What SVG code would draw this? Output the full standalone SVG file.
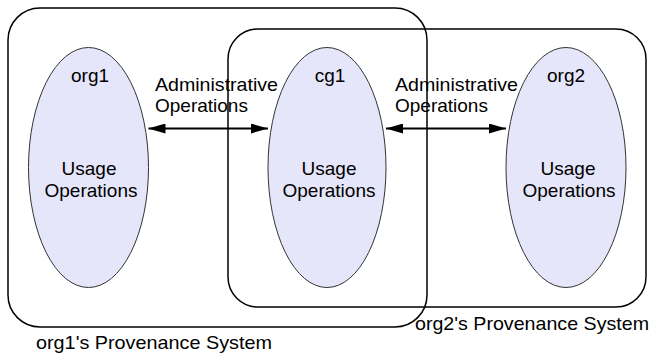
<svg xmlns="http://www.w3.org/2000/svg" width="652" height="354" viewBox="0 0 652 354">
<defs>
<style>
text{font-family:"Liberation Sans",Arial,sans-serif;font-size:19px;fill:#000}
.c{text-anchor:middle}
.sys{fill:none;stroke:#000;stroke-width:1.5}
.org{fill:#e6e6fa;stroke:#333;stroke-width:1}
.arr{stroke:#000;stroke-width:2;fill:none;marker-start:url(#ah);marker-end:url(#ah)}
</style>
<marker id="ah" viewBox="0 0 17 10" refX="17" refY="5" markerWidth="17" markerHeight="10" markerUnits="userSpaceOnUse" orient="auto-start-reverse">
<path d="M0,0 L17,5 L0,10 Z" fill="#000"/>
</marker>
</defs>
<rect width="652" height="354" fill="#fff"/>
<g id="org1">
<ellipse class="org" cx="88.5" cy="167.5" rx="60" ry="120"/>
<text class="c" x="90" y="82">org1</text>
<text class="c" x="89" y="175">Usage</text>
<text class="c" x="91" y="197">Operations</text>
</g>
<g id="cg1">
<ellipse class="org" cx="327" cy="167.5" rx="59" ry="120"/>
<text class="c" x="330" y="82">cg1</text>
<text class="c" x="329" y="175">Usage</text>
<text class="c" x="329" y="197">Operations</text>
</g>
<g id="org2">
<ellipse class="org" cx="566" cy="167.5" rx="60" ry="120"/>
<text class="c" x="566" y="82">org2</text>
<text class="c" x="568" y="175">Usage</text>
<text class="c" x="569" y="197">Operations</text>
</g>
<g id="connectors">
<line class="arr" x1="148.5" y1="128.5" x2="268" y2="128.5"/>
<line class="arr" x1="386" y1="128.5" x2="506" y2="128.5"/>
<text x="155" y="91" textLength="123" lengthAdjust="spacingAndGlyphs">Administrative</text>
<text x="155" y="112">Operations</text>
<text x="395" y="91" textLength="123" lengthAdjust="spacingAndGlyphs">Administrative</text>
<text x="395" y="112">Operations</text>
</g>
<g id="org1-system">
<rect class="sys" x="8" y="8" width="419" height="319" rx="32" ry="32"/>
<text x="36" y="349" textLength="236" lengthAdjust="spacingAndGlyphs">org1's Provenance System</text>
</g>
<g id="org2-system">
<rect class="sys" x="228" y="29" width="418" height="278" rx="30" ry="30"/>
<text x="415" y="330" textLength="234" lengthAdjust="spacingAndGlyphs">org2's Provenance System</text>
</g>
</svg>
